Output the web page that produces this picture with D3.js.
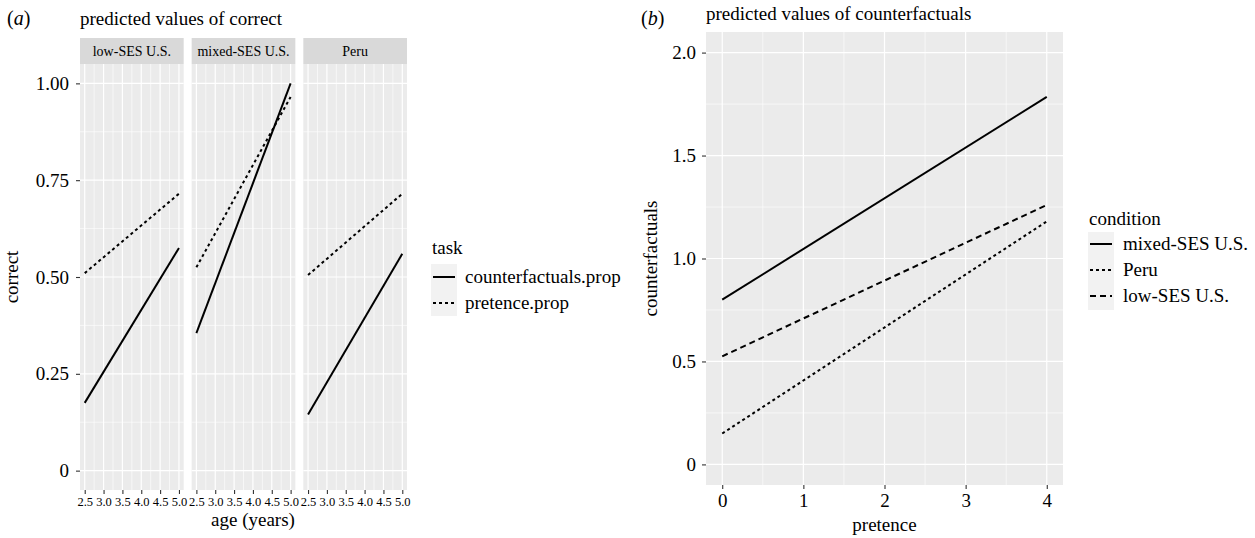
<!DOCTYPE html>
<html>
<head>
<meta charset="utf-8">
<script src="https://cdn.jsdelivr.net/npm/d3@7"></script>
<style>
  body { margin: 0; background: #fff; }
  svg text { font-family: "Liberation Serif", "Times New Roman", serif; fill: #000; }
</style>
</head>
<body>
<svg id="chart" width="1255" height="538"></svg>
<script>
// panel (a): predicted values of correct, by condition
var ages = [2.5, 5.0];
var facets = ["low-SES U.S.", "mixed-SES U.S.", "Peru"];
var counterfactualsProp = [[0.175, 0.575], [0.355, 1.00], [0.145, 0.56]];
var pretenceProp = [[0.51, 0.715], [0.525, 0.965], [0.505, 0.715]];
var ageTicks = [2.5, 3.0, 3.5, 4.0, 4.5, 5.0];
var ageTickLabels = ["2.5", "3.0", "3.5", "4.0", "4.5", "5.0"];
var correctTicks = [0, 0.25, 0.5, 0.75, 1.0];
var correctTickLabels = ["0", "0.25", "0.50", "0.75", "1.00"];
var tasks = ["counterfactuals.prop", "pretence.prop"];

// panel (b): predicted values of counterfactuals
var pretenceRange = [0, 4];
var conditions = ["mixed-SES U.S.", "Peru", "low-SES U.S."];
var cfMixed = [0.80, 1.785];
var cfPeru = [0.15, 1.18];
var cfLow = [0.525, 1.26];
var pretenceTicks = [0, 1, 2, 3, 4];
var cfTicks = [0, 0.5, 1.0, 1.5, 2.0];
var cfTickLabels = ["0", "0.5", "1.0", "1.5", "2.0"];

var dashes = { solid: null, dotted: "3,3", dashed: "6,4" };
var taskDash = [dashes.solid, dashes.dotted];
var condDash = [dashes.solid, dashes.dotted, dashes.dashed];

var svg = d3.select("#chart");

function grid(g, x, y, xs, ys, w, h) {
  g.append("rect").attr("width", w).attr("height", h).attr("fill", "#EBEBEB");
  xs.minor.forEach(function(v) {
    g.append("line").attr("x1", x(v)).attr("x2", x(v)).attr("y1", 0).attr("y2", h)
      .attr("stroke", "#fff").attr("stroke-width", 0.6);
  });
  ys.minor.forEach(function(v) {
    g.append("line").attr("y1", y(v)).attr("y2", y(v)).attr("x1", 0).attr("x2", w)
      .attr("stroke", "#fff").attr("stroke-width", 0.6);
  });
  xs.major.forEach(function(v) {
    g.append("line").attr("x1", x(v)).attr("x2", x(v)).attr("y1", 0).attr("y2", h)
      .attr("stroke", "#fff").attr("stroke-width", 1.2);
  });
  ys.major.forEach(function(v) {
    g.append("line").attr("y1", y(v)).attr("y2", y(v)).attr("x1", 0).attr("x2", w)
      .attr("stroke", "#fff").attr("stroke-width", 1.2);
  });
}

function mids(arr) {
  var out = [];
  for (var i = 0; i < arr.length - 1; i++) out.push((arr[i] + arr[i + 1]) / 2);
  return out;
}

function styleAxis(g, size) {
  g.select(".domain").remove();
  g.selectAll(".tick line").attr("stroke", "#333").attr("stroke-width", 1.1);
  g.selectAll(".tick text").style("font-size", size + "px").attr("fill", "#000");
}

// ---------- panel (a) ----------
var aTop = 64, aBottom = 490, aLeft = 80, aRight = 407, gap = 8;
var pw = (aRight - aLeft - 2 * gap) / 3;
var yA = d3.scaleLinear().domain([-0.05, 1.05]).range([aBottom, aTop]);

svg.append("text").attr("x", 7).attr("y", 25).style("font-size", "20px")
  .html('(<tspan font-style="italic">a</tspan>)');
svg.append("text").attr("x", 80).attr("y", 25).style("font-size", "19px")
  .text("predicted values of correct");

facets.forEach(function(f, i) {
  var left = aLeft + i * (pw + gap);
  var x = d3.scaleLinear().domain([2.375, 5.125]).range([0, pw]);
  var g = svg.append("g").attr("transform", "translate(" + left + "," + aTop + ")");
  var yLocal = function(v) { return yA(v) - aTop; };
  grid(g, x, yLocal, { major: ageTicks, minor: mids(ageTicks) },
    { major: correctTicks, minor: mids(correctTicks) }, pw, aBottom - aTop);
  // strip
  svg.append("rect").attr("x", left).attr("y", 38).attr("width", pw).attr("height", aTop - 38)
    .attr("fill", "#D9D9D9");
  svg.append("text").attr("x", left + pw / 2).attr("y", 56).attr("text-anchor", "middle")
    .style("font-size", "14px").text(f);

  var line = d3.line().x(function(d, k) { return x(ages[k]); }).y(function(d) { return yLocal(d); });
  [counterfactualsProp[i], pretenceProp[i]].forEach(function(vals, t) {
    g.append("path").attr("d", line(vals)).attr("fill", "none").attr("stroke", "#000")
      .attr("stroke-width", 2).attr("stroke-dasharray", taskDash[t]);
  });

  var xa = svg.append("g").attr("transform", "translate(" + left + "," + aBottom + ")")
    .call(d3.axisBottom(x).tickValues(ageTicks).tickSize(4).tickPadding(3)
      .tickFormat(function(d, k) { return ageTickLabels[k]; }));
  styleAxis(xa, 12.5);
});

var ya = svg.append("g").attr("transform", "translate(" + aLeft + ",0)")
  .call(d3.axisLeft(yA).tickValues(correctTicks).tickSize(4).tickPadding(7)
    .tickFormat(function(d, k) { return correctTickLabels[k]; }));
styleAxis(ya, 19);

svg.append("text").attr("x", 253).attr("y", 526).attr("text-anchor", "middle")
  .style("font-size", "19px").text("age (years)");
svg.append("text").attr("transform", "translate(18," + (aTop + aBottom) / 2 + ") rotate(-90)")
  .attr("text-anchor", "middle").style("font-size", "19px").text("correct");

// legend (a)
svg.append("text").attr("x", 432).attr("y", 254).style("font-size", "19px").text("task");
tasks.forEach(function(t, k) {
  var yk = 264 + k * 26;
  svg.append("rect").attr("x", 431).attr("y", yk).attr("width", 26).attr("height", 26).attr("fill", "#F2F2F2");
  svg.append("line").attr("x1", 433).attr("x2", 455).attr("y1", yk + 13).attr("y2", yk + 13)
    .attr("stroke", "#000").attr("stroke-width", 2).attr("stroke-dasharray", taskDash[k]);
  svg.append("text").attr("x", 465).attr("y", yk + 19).style("font-size", "19px").text(t);
});

// ---------- panel (b) ----------
var bTop = 32, bBottom = 485, bLeft = 706, bRight = 1063;
var xB = d3.scaleLinear().domain([-0.2, 4.2]).range([bLeft, bRight]);
var yB = d3.scaleLinear().domain([-0.1, 2.1]).range([bBottom, bTop]);

svg.append("text").attr("x", 641).attr("y", 25).style("font-size", "20px")
  .html('(<tspan font-style="italic">b</tspan>)');
svg.append("text").attr("x", 706).attr("y", 20).style("font-size", "19px")
  .text("predicted values of counterfactuals");

var gb = svg.append("g").attr("transform", "translate(" + bLeft + "," + bTop + ")");
grid(gb, function(v) { return xB(v) - bLeft; }, function(v) { return yB(v) - bTop; },
  { major: pretenceTicks, minor: mids(pretenceTicks) },
  { major: cfTicks, minor: mids(cfTicks) }, bRight - bLeft, bBottom - bTop);

var lineB = d3.line().x(function(d, k) { return xB(pretenceRange[k]); }).y(function(d) { return yB(d); });
[cfMixed, cfPeru, cfLow].forEach(function(vals, k) {
  svg.append("path").attr("d", lineB(vals)).attr("fill", "none").attr("stroke", "#000")
    .attr("stroke-width", 2).attr("stroke-dasharray", condDash[k]);
});

var xb = svg.append("g").attr("transform", "translate(0," + bBottom + ")")
  .call(d3.axisBottom(xB).tickValues(pretenceTicks).tickSize(4).tickPadding(5)
    .tickFormat(d3.format("d")));
styleAxis(xb, 19);
var yb = svg.append("g").attr("transform", "translate(" + bLeft + ",0)")
  .call(d3.axisLeft(yB).tickValues(cfTicks).tickSize(4).tickPadding(6)
    .tickFormat(function(d, k) { return cfTickLabels[k]; }));
styleAxis(yb, 19);

svg.append("text").attr("x", (bLeft + bRight) / 2).attr("y", 531).attr("text-anchor", "middle")
  .style("font-size", "19px").text("pretence");
svg.append("text").attr("transform", "translate(657," + (bTop + bBottom) / 2 + ") rotate(-90)")
  .attr("text-anchor", "middle").style("font-size", "19px").text("counterfactuals");

// legend (b)
svg.append("text").attr("x", 1089).attr("y", 225).style("font-size", "19px").text("condition");
conditions.forEach(function(c, k) {
  var yk = 232 + k * 26;
  svg.append("rect").attr("x", 1088).attr("y", yk).attr("width", 26).attr("height", 26).attr("fill", "#F2F2F2");
  svg.append("line").attr("x1", 1090).attr("x2", 1112).attr("y1", yk + 12).attr("y2", yk + 12)
    .attr("stroke", "#000").attr("stroke-width", 2).attr("stroke-dasharray", condDash[k]);
  svg.append("text").attr("x", 1123).attr("y", yk + 18).style("font-size", "19px").text(c);
});
</script>
</body>
</html>
